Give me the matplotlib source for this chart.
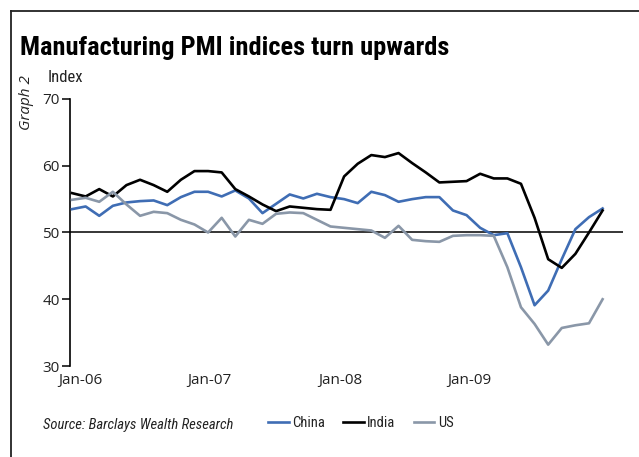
import matplotlib
matplotlib.use("Agg")
import matplotlib.pyplot as plt
from matplotlib import font_manager
from matplotlib.lines import Line2D
import numpy as np

# Monthly manufacturing PMI readings, Jan-06 .. Apr-09
china = [53.5, 53.9, 52.5, 54.0, 54.5, 54.7, 54.8, 54.1, 55.3, 56.1,
         56.1, 55.4, 56.3, 55.1, 52.9, 54.3, 55.7, 55.1, 55.8, 55.3,
         55.0, 54.4, 56.1, 55.6, 54.6, 55.0, 55.3, 55.3, 53.3, 52.6,
         50.7, 49.6, 49.9, 44.8, 39.1, 41.3, 46.0, 50.5, 52.3, 53.6]
india = [55.9, 55.4, 56.5, 55.4, 57.1, 57.9, 57.1, 56.1, 57.9, 59.2,
         59.2, 59.0, 56.5, 55.4, 54.2, 53.2, 53.9, 53.7, 53.5, 53.4,
         58.4, 60.3, 61.6, 61.3, 61.9, 60.4, 59.0, 57.5, 57.6, 57.7,
         58.8, 58.1, 58.1, 57.3, 52.2, 46.0, 44.7, 46.8, 50.0, 53.3]
us = [54.9, 55.2, 54.6, 56.1, 54.2, 52.5, 53.1, 52.9, 51.9, 51.2,
      50.0, 52.2, 49.4, 51.9, 51.3, 52.8, 53.0, 52.9, 51.9, 50.9,
      50.7, 50.5, 50.3, 49.2, 51.0, 48.9, 48.7, 48.6, 49.5, 49.6,
      49.6, 49.5, 44.8, 38.8, 36.3, 33.2, 35.7, 36.1, 36.4, 40.0]

series_names = ["China", "India", "US"]
series_colors = ["#3F6DB4", "#000000", "#8A97A8"]
tick_labels = ["Jan-06", "Jan-07", "Jan-08", "Jan-09"]
tick_pos = [0.6, 10.1, 19.7, 29.2]
y_ticks = [30, 40, 50, 60, 70]

available = {f.name for f in font_manager.fontManager.ttflist}


def pick(*names):
    for n in names:
        if n in available:
            return n
    return "DejaVu Sans"


narrow = pick("Liberation Sans Narrow", "Roboto Condensed", "Open Sans")
plain = pick("Open Sans", "Noto Sans", "DejaVu Sans")

W, H = 639, 457
fig = plt.figure(figsize=(W / 100, H / 100), dpi=100)


def fx(px):
    return px / W


def fy(py):
    return 1 - py / H


ax = fig.add_axes([fx(70), fy(366), fx(623) - fx(70), fy(99) - fy(366)])
x = np.arange(len(china))
for vals, name, col in zip([china, india, us], series_names, series_colors):
    ax.plot(x, vals, color=col, lw=1.9, label=name, solid_joinstyle="round",
            clip_on=False, zorder=3)

ax.axhline(50, color="black", lw=1.1, zorder=2)
ax.set_xlim(-0.15, 40.5)
ax.set_ylim(30, 70)
ax.set_yticks(y_ticks)
ax.set_xticks(tick_pos, tick_labels)
for s in ["top", "right", "bottom"]:
    ax.spines[s].set_visible(False)
ax.spines["left"].set_linewidth(1.2)
ax.tick_params(axis="y", direction="out", length=6, width=1.1, pad=1.5,
               labelsize=11, labelcolor="#222222")
ax.tick_params(axis="x", length=0, pad=5, labelsize=11, labelcolor="#222222")
for lab in ax.get_xticklabels() + ax.get_yticklabels():
    lab.set_family(plain)

# Frame lines around the panel
fig.add_artist(Line2D([fx(11), 1], [fy(11), fy(11)], color="#222222", lw=1.3))
fig.add_artist(Line2D([fx(11), fx(11)], [fy(11), 0], color="#222222", lw=1.3))

fig.text(fx(20), fy(48), "Manufacturing PMI indices turn upwards",
         family=narrow, weight="bold", fontsize=19, va="center", ha="left",
         color="black")
fig.text(fx(48), fy(77), "Index", family=narrow, fontsize=12, va="center",
         ha="left", color="#222222")
fig.text(fx(27), fy(103), "Graph 2", family=plain, style="italic",
         fontsize=11, rotation=90, va="center", ha="center", color="#222222")
fig.text(fx(43), fy(425), "Source: Barclays Wealth Research", family=narrow,
         style="italic", fontsize=10.5, va="center", ha="left",
         color="#222222")

handles, labels = ax.get_legend_handles_labels()
leg = fig.legend(handles, labels, loc="center left",
                 bbox_to_anchor=(fx(255), fy(423)), ncol=3, frameon=False,
                 handlelength=1.4, handletextpad=0.25, columnspacing=1.25,
                 prop={"family": narrow, "size": 10.5})
for t in leg.get_texts():
    t.set_color("#222222")

fig.savefig("out.png", dpi=100)
